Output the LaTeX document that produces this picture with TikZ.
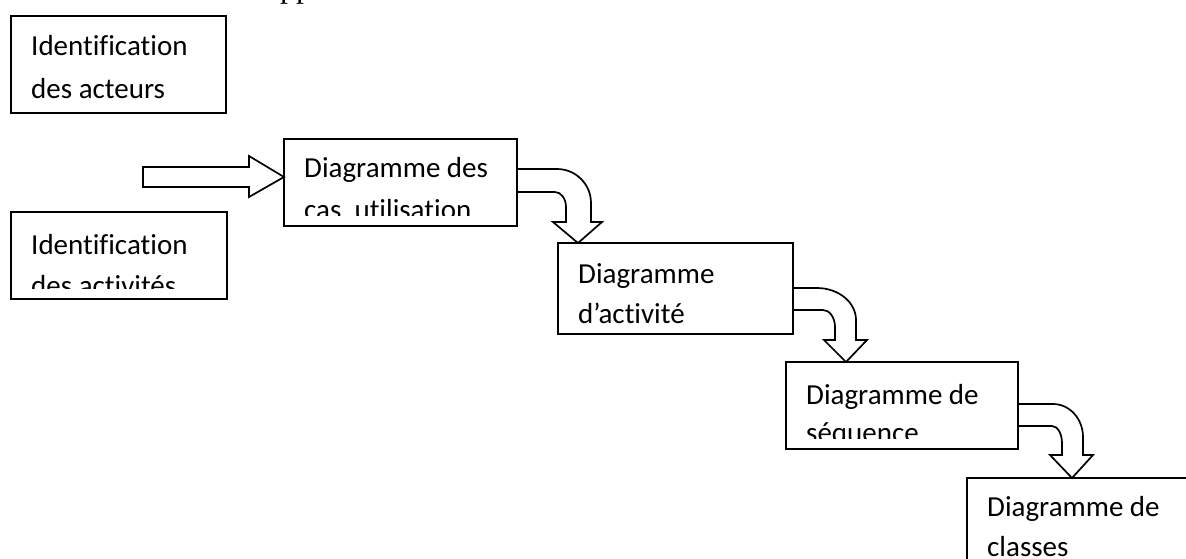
\documentclass[tikz,border=0pt]{standalone}
\usepackage{fontspec}
\setmainfont{Carlito}[Ligatures={NoCommon,NoContextual},RawFeature={-liga;-clig;-dlig}]
\newfontfamily\bodyserif{Liberation Serif}
\usetikzlibrary{calc}

% one stage of the process: framed box with two lines of text,
% the text being cut off by the inner bottom margin of the frame
% #1 name, #2 #3 top-left, #4 #5 bottom-right, #6 #7 baselines, #8 #9 lines
\newcommand\stagebox[9]{%
  \node[box,minimum width={#4-#2},minimum height={#5-#3}] (#1) at (#2,#3) {};
  \begin{scope}
    \clip (#2,#3) rectangle (#4,#5-11);
    \node[stagelabel] (#1-a) at (#2+20,#6) {#8};
    \node[stagelabel] (#1-b) at (#2+20,#7) {#9};
  \end{scope}}

\begin{document}
\begin{tikzpicture}[x=1pt,y=-1pt,
  box/.style={draw,line width=1.7pt,rectangle,inner sep=0pt,outer sep=0pt,anchor=north west},
  stagelabel/.style={anchor=base west,inner sep=0pt,font=\fontsize{29}{35}\selectfont},
  blockarrow/.style={draw,line width=1.7pt,fill=white,line join=miter}]
\useasboundingbox (0,0) rectangle (1186,558);
\clip (0,0) rectangle (1186,558);
\fill[white] (0,0) rectangle (1186,558);

% descenders of the body text line above the figure
\node[anchor=base west,inner sep=0pt,font=\bodyserif\fontsize{32}{38}\selectfont] (bodytext) at (280,-3) {pp};

% stages
\stagebox{acteurs}{11}{16}{226}{113}{55.5}{98.5}{Identification}{des acteurs}
\stagebox{activites}{11}{212}{227}{299}{254.5}{295.5}{Identification}{des activités}
\stagebox{cas}{284}{139}{517}{226}{177}{219}{Diagramme des}{cas\ \ utilisation}
\stagebox{activite}{558}{243}{793}{334}{283.5}{323}{Diagramme}{d’activité}
\stagebox{sequence}{786}{362}{1018}{449}{404.5}{442}{Diagramme de}{séquence}
\stagebox{classes}{967}{478}{1200}{580}{516.5}{556}{Diagramme de}{classes}

% straight block arrow into the use case diagram
\coordinate (tail) at (143,177);
\draw[blockarrow] ($(tail)+(0,-10)$) -- (249,167) -- (249,156)
  -- ($(cas.north west)+(0,38)$) -- (249,197) -- (249,187) -- ($(tail)+(0,10)$) -- cycle;

% bent block arrows between the stages
\draw[blockarrow] ($(cas.north east)+(0,30)$) -- (557,169) arc (-90:0:34 and 34)
  -- (591,222) -- (602,222) -- ($(activite.north west)+(20,0)$) -- (553,222) -- (566,222)
  -- (566,207) arc (0:-90:11 and 15) -- (517,192) -- cycle;

\draw[blockarrow] ($(activite.north east)+(0,45)$) -- (817,288) arc (-90:0:39 and 32)
  -- (856,340) -- (867,340) -- ($(sequence.north west)+(60,0)$) -- (824,340) -- (835,340)
  -- (835,327) arc (0:-90:12 and 17) -- (793,310) -- cycle;

\draw[blockarrow] ($(sequence.north east)+(0,42)$) -- (1053,404) arc (-90:0:30 and 33)
  -- (1083,455) -- (1093,455) -- ($(classes.north west)+(105,0)$) -- (1050,455) -- (1062,455)
  -- (1062,443) arc (0:-90:10 and 17) -- (1052,426) -- (1018,426) -- cycle;
\end{tikzpicture}
\end{document}
